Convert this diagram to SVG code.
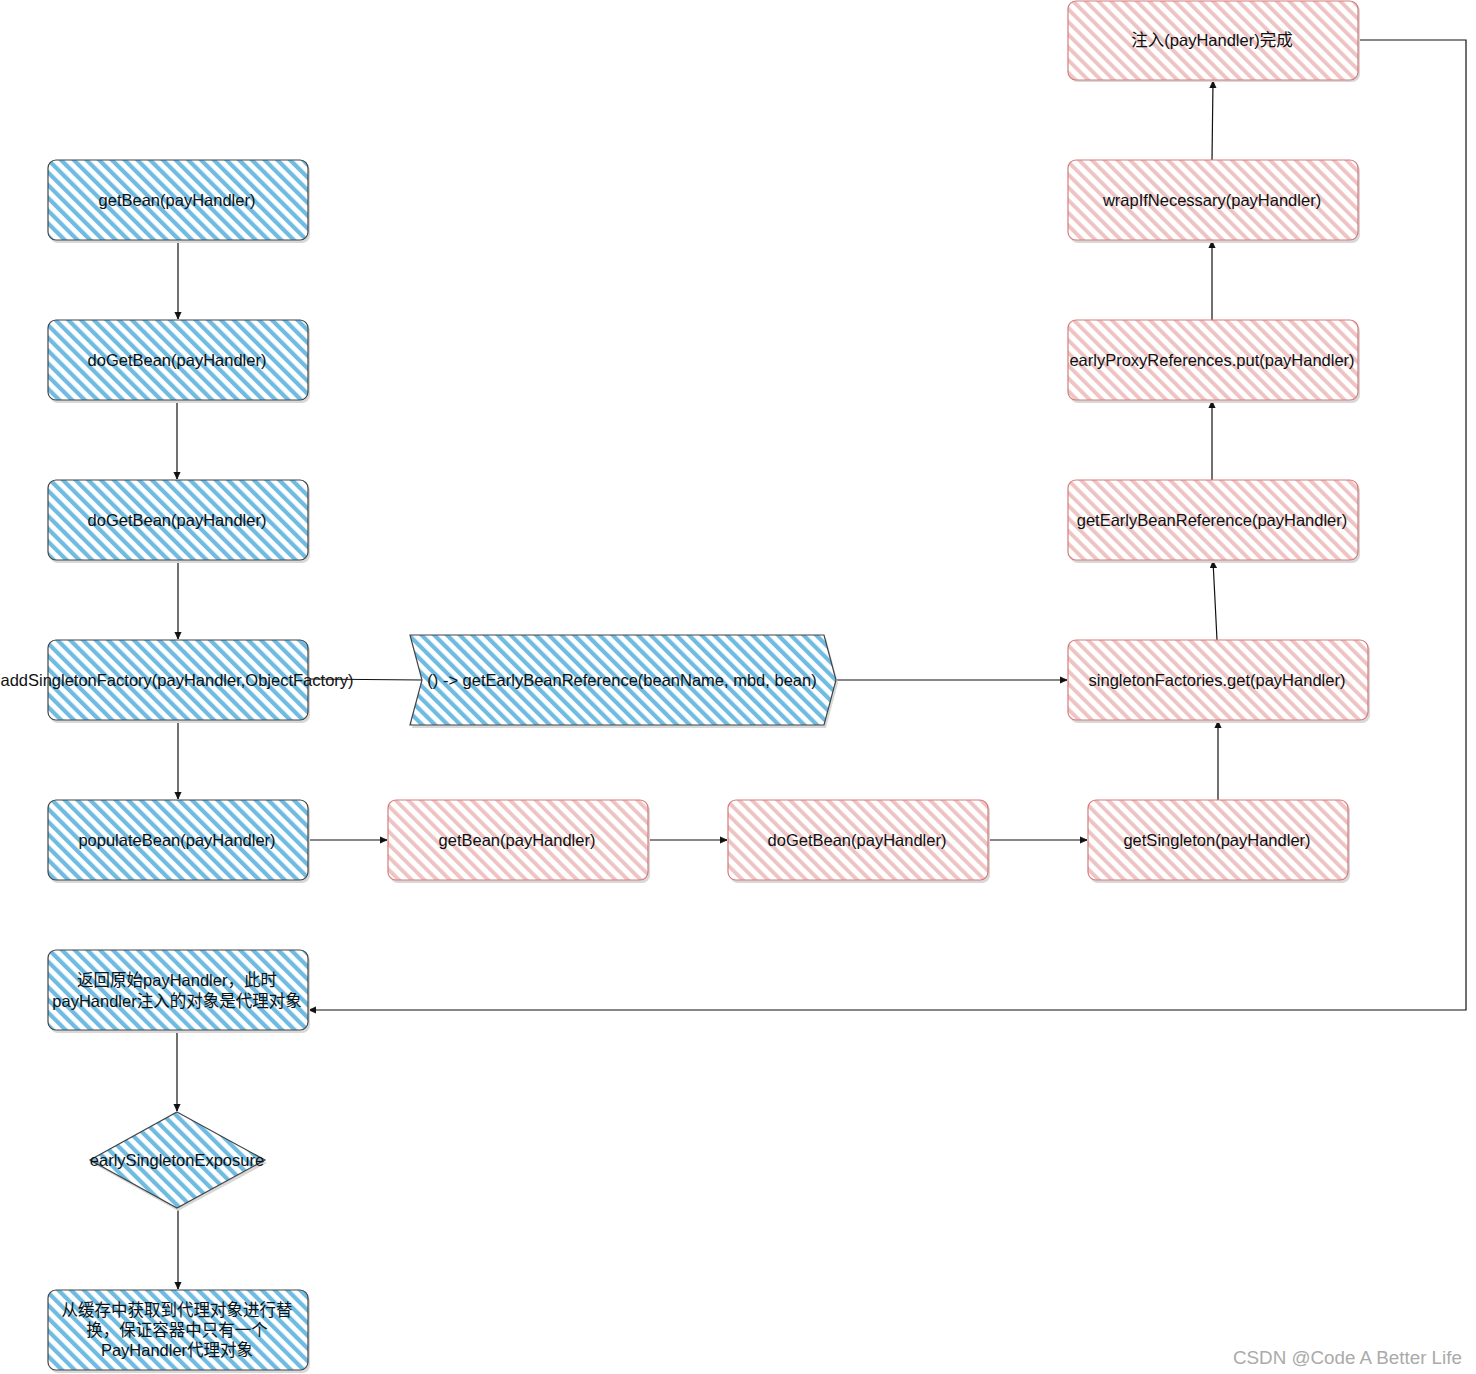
<svg xmlns="http://www.w3.org/2000/svg" width="1476" height="1374" viewBox="0 0 1476 1374">
<defs>
  <pattern id="hb" width="9" height="9" patternUnits="userSpaceOnUse" patternTransform="rotate(-45)">
    <rect x="0" y="0" width="9" height="9" fill="#fff"/>
    <rect x="0" y="0" width="4.2" height="9" fill="#6fbbe2"/>
  </pattern>
  <pattern id="hp" width="9" height="9" patternUnits="userSpaceOnUse" patternTransform="rotate(-45)">
    <rect x="0" y="0" width="9" height="9" fill="#fff"/>
    <rect x="0" y="0" width="3.8" height="9" fill="#edc3c3"/>
  </pattern>
  <marker id="ar" viewBox="0 0 10 10" refX="9" refY="5" markerWidth="8" markerHeight="8" markerUnits="userSpaceOnUse" orient="auto">
    <path d="M0,1 L9,5 L0,9 Z" fill="#111" stroke="#111" stroke-width="1"/>
  </marker>
</defs>
<style>
  text { font-family: "Liberation Sans", "Noto Sans CJK SC", Arial, sans-serif; font-size: 16.5px; fill: #111; text-anchor: middle; dominant-baseline: central; }
  .sh { fill: #d8d8d8; }
  .bl { fill: url(#hb); stroke: #444; stroke-width: 1.2; }
  .pk { fill: url(#hp); stroke: #d77a7a; stroke-width: 1.2; }
  .ln { fill: none; stroke: #111; stroke-width: 1.2; }
  .wm { font-size: 18.8px; fill: #aaa; text-anchor: start; }
</style>
<rect width="1476" height="1374" fill="#fff"/>

<g id="connectors">
  <path class="ln" d="M178,240 L178,319" marker-end="url(#ar)"/>
  <path class="ln" d="M177,400 L177,479" marker-end="url(#ar)"/>
  <path class="ln" d="M178,560 L178,639" marker-end="url(#ar)"/>
  <path class="ln" d="M178,720 L178,799" marker-end="url(#ar)"/>
  <path class="ln" d="M177,1030 L177,1111" marker-end="url(#ar)"/>
  <path class="ln" d="M178,1208 L178,1289" marker-end="url(#ar)"/>
  <path class="ln" d="M308,679 L422,680"/>
  <path class="ln" d="M836,680 L1067,680" marker-end="url(#ar)"/>
  <path class="ln" d="M308,840 L387,840" marker-end="url(#ar)"/>
  <path class="ln" d="M648,840 L727,840" marker-end="url(#ar)"/>
  <path class="ln" d="M988,840 L1087,840" marker-end="url(#ar)"/>
  <path class="ln" d="M1218,800 L1218,721" marker-end="url(#ar)"/>
  <path class="ln" d="M1217,640 L1215,600 L1213,561" marker-end="url(#ar)"/>
  <path class="ln" d="M1212,480 L1212,401" marker-end="url(#ar)"/>
  <path class="ln" d="M1212,320 L1212,241" marker-end="url(#ar)"/>
  <path class="ln" d="M1212,160 L1213,81" marker-end="url(#ar)"/>
  <path class="ln" d="M1358,40 L1466,40 L1466,1010 L309,1010" marker-end="url(#ar)"/>
</g>

<g id="n1">
  <rect class="sh" x="50" y="163" width="260" height="80" rx="8"/>
  <rect class="bl" x="48" y="160" width="260" height="80" rx="8"/>
  <text x="177" y="200">getBean(payHandler)</text>
</g>
<g id="n2">
  <rect class="sh" x="50" y="323" width="260" height="80" rx="8"/>
  <rect class="bl" x="48" y="320" width="260" height="80" rx="8"/>
  <text x="177" y="360">doGetBean(payHandler)</text>
</g>
<g id="n3">
  <rect class="sh" x="50" y="483" width="260" height="80" rx="8"/>
  <rect class="bl" x="48" y="480" width="260" height="80" rx="8"/>
  <text x="177" y="520">doGetBean(payHandler)</text>
</g>
<g id="n4">
  <rect class="sh" x="50" y="643" width="260" height="80" rx="8"/>
  <rect class="bl" x="48" y="640" width="260" height="80" rx="8"/>
  <text x="177" y="680">addSingletonFactory(payHandler,ObjectFactory)</text>
</g>
<g id="n5">
  <rect class="sh" x="50" y="803" width="260" height="80" rx="8"/>
  <rect class="bl" x="48" y="800" width="260" height="80" rx="8"/>
  <text x="177" y="840">populateBean(payHandler)</text>
</g>
<g id="n6">
  <rect class="sh" x="50" y="953" width="260" height="80" rx="8"/>
  <rect class="bl" x="48" y="950" width="260" height="80" rx="8"/>
  <text x="177" y="980">返回原始payHandler，此时</text>
  <text x="177" y="1001">payHandler注入的对象是代理对象</text>
</g>
<g id="n7">
  <path class="sh" d="M178,1115 L267,1163 L178,1211 L92,1163 Z"/>
  <path class="bl" d="M177,1112 L265,1160 L177,1208 L90,1160 Z"/>
  <text x="177" y="1160">earlySingletonExposure</text>
</g>
<g id="n8">
  <rect class="sh" x="50" y="1293" width="260" height="80" rx="8"/>
  <rect class="bl" x="48" y="1290" width="260" height="80" rx="8"/>
  <text x="177" y="1310">从缓存中获取到代理对象进行替</text>
  <text x="177" y="1330">换，保证容器中只有一个</text>
  <text x="177" y="1350">PayHandler代理对象</text>
</g>
<g id="n9">
  <path class="sh" d="M412,638 L826,638 L838,683 L826,728 L412,728 L424,683 Z"/>
  <path class="bl" d="M410,635 L824,635 L836,680 L824,725 L410,725 L422,680 Z"/>
  <text x="622" y="680">() -&gt; getEarlyBeanReference(beanName, mbd, bean)</text>
</g>
<g id="p1">
  <rect class="sh" x="390" y="803" width="260" height="80" rx="8"/>
  <rect class="pk" x="388" y="800" width="260" height="80" rx="8"/>
  <text x="517" y="840">getBean(payHandler)</text>
</g>
<g id="p2">
  <rect class="sh" x="730" y="803" width="260" height="80" rx="8"/>
  <rect class="pk" x="728" y="800" width="260" height="80" rx="8"/>
  <text x="857" y="840">doGetBean(payHandler)</text>
</g>
<g id="p3">
  <rect class="sh" x="1090" y="803" width="260" height="80" rx="8"/>
  <rect class="pk" x="1088" y="800" width="260" height="80" rx="8"/>
  <text x="1217" y="840">getSingleton(payHandler)</text>
</g>
<g id="p4">
  <rect class="sh" x="1070" y="643" width="300" height="80" rx="8"/>
  <rect class="pk" x="1068" y="640" width="300" height="80" rx="8"/>
  <text x="1217" y="680">singletonFactories.get(payHandler)</text>
</g>
<g id="p5">
  <rect class="sh" x="1070" y="483" width="290" height="80" rx="8"/>
  <rect class="pk" x="1068" y="480" width="290" height="80" rx="8"/>
  <text x="1212" y="520">getEarlyBeanReference(payHandler)</text>
</g>
<g id="p6">
  <rect class="sh" x="1070" y="323" width="290" height="80" rx="8"/>
  <rect class="pk" x="1068" y="320" width="290" height="80" rx="8"/>
  <text x="1212" y="360">earlyProxyReferences.put(payHandler)</text>
</g>
<g id="p7">
  <rect class="sh" x="1070" y="163" width="290" height="80" rx="8"/>
  <rect class="pk" x="1068" y="160" width="290" height="80" rx="8"/>
  <text x="1212" y="200">wrapIfNecessary(payHandler)</text>
</g>
<g id="p8">
  <rect class="sh" x="1070" y="3" width="290" height="79" rx="8"/>
  <rect class="pk" x="1068" y="1" width="290" height="79" rx="8"/>
  <text x="1212" y="40">注入(payHandler)完成</text>
</g>

<text class="wm" x="1233" y="1357">CSDN @Code A Better Life</text>
</svg>
